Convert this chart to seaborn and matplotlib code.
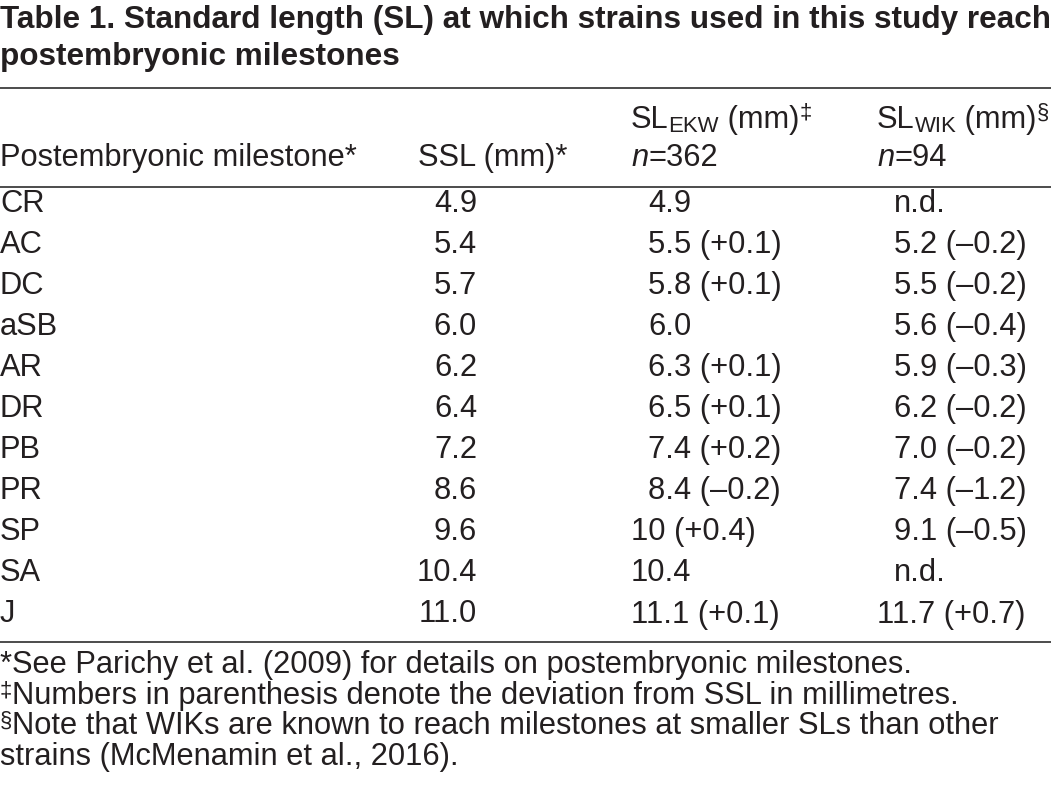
import re
import matplotlib
matplotlib.use("Agg")
import matplotlib.pyplot as plt
import seaborn as sns

# table content
title_lines = ["Table 1. Standard length (SL) at which strains used in this study reach",
               "postembryonic milestones"]
milestones = ['CR', 'AC', 'DC', 'aSB', 'AR', 'DR', 'PB', 'PR', 'SP', 'SA', 'J']
ssl = ['4.9', '5.4', '5.7', '6.0', '6.2', '6.4', '7.2', '8.6', '9.6', '10.4', '11.0']
sl_ekw = ['4.9', '5.5 (+0.1)', '5.8 (+0.1)', '6.0', '6.3 (+0.1)', '6.5 (+0.1)',
          '7.4 (+0.2)', '8.4 (\u20130.2)', '10 (+0.4)', '10.4', '11.1 (+0.1)']
sl_wik = ['n.d.', '5.2 (\u20130.2)', '5.5 (\u20130.2)', '5.6 (\u20130.4)', '5.9 (\u20130.3)',
          '6.2 (\u20130.2)', '7.0 (\u20130.2)', '7.4 (\u20131.2)', '9.1 (\u20130.5)', 'n.d.',
          '11.7 (+0.7)']
n_ekw = 362
n_wik = 94
footnotes = [('*', 'See Parichy et al. (2009) for details on postembryonic milestones.'),
             ('\u2021', 'Numbers in parenthesis denote the deviation from SSL in millimetres.'),
             ('\u00a7', 'Note that WIKs are known to reach milestones at smaller SLs than other'),
             ('', 'strains (McMenamin et al., 2016).')]

sns.set_theme(style="white")
plt.rcParams['font.family'] = ['Liberation Sans', 'DejaVu Sans']

ink = '#231f20'
fs = 22.2
fs_title = 22.7
sub = fs * 0.72

fig = plt.figure(figsize=(10.51, 8.02), dpi=100)
ax = fig.add_axes([0, 0, 1, 1])
ax.set_xlim(0, 1051)
ax.set_ylim(802, 0)
ax.axis('off')
renderer = fig.canvas.get_renderer()


def width(t):
    return t.get_window_extent(renderer).width


def runs(x, y, parts):
    # draw (text, size, dy, style) pieces one after another on a baseline
    for txt, size, dy, style in parts:
        t = ax.text(x, y - dy, txt, fontsize=size, style=style, color=ink,
                    va='baseline', ha='left')
        x += width(t)
    return x


# title
ax.text(0, 28, title_lines[0], fontsize=fs_title, weight='bold', color=ink, va='baseline')
ax.text(0, 65, title_lines[1], fontsize=fs_title, weight='bold', color=ink, va='baseline')

# rules
for yy in [88, 187, 642]:
    ax.axhline(yy, color='#2e2e2e', lw=1.2)

# header
col_ssl_right = 477
col_ssl_head = 418
col_ekw = 631
col_wik = 877
runs(col_ekw, 128, [('SL', fs, 0, 'normal'), ('EKW', sub, -4, 'normal'),
                    (' (mm)', fs, 0, 'normal'), ('\u2021', sub, 9, 'normal')])
runs(col_wik, 128, [('SL', fs, 0, 'normal'), ('WIK', sub, -4, 'normal'),
                    (' (mm)', fs, 0, 'normal'), ('\u00a7', sub, 9, 'normal')])
ax.text(0, 166, 'Postembryonic milestone*', fontsize=fs, color=ink, va='baseline')
ax.text(col_ssl_head, 166, 'SSL (mm)*', fontsize=fs, color=ink, va='baseline')
runs(col_ekw, 166, [('n', fs, 0, 'italic'), ('=%d' % n_ekw, fs, 0, 'normal')])
runs(col_wik, 166, [('n', fs, 0, 'italic'), ('=%d' % n_wik, fs, 0, 'normal')])

# digit width, used to line up one- and two-digit numbers
probe = ax.text(0, 0, '0', fontsize=fs)
dw = width(probe)
probe.remove()


def aligned(x0, y, s):
    m = re.match(r'\d+', s)
    ndig = len(m.group(0)) if m else 1
    ax.text(x0 + (2 - ndig) * dw, y, s, fontsize=fs, color=ink, va='baseline', ha='left')


y0, step = 211.5, 41.1
for i, name in enumerate(milestones):
    y = y0 + i * step
    ax.text(0, y, name, fontsize=fs, color=ink, va='baseline')
    ax.text(col_ssl_right, y, ssl[i], fontsize=fs, color=ink, va='baseline', ha='right')
    aligned(col_ekw, y, sl_ekw[i])
    aligned(col_wik, y, sl_wik[i])

# footnotes
fy = 673.5
for mark, txt in footnotes:
    if mark == '*':
        runs(0, fy, [(mark + txt, fs, 0, 'normal')])
    elif mark:
        runs(0, fy, [(mark, sub, 8, 'normal'), (txt, fs, 0, 'normal')])
    else:
        runs(0, fy, [(txt, fs, 0, 'normal')])
    fy += 30.5

fig.savefig('out.png', dpi=100, facecolor='white')
